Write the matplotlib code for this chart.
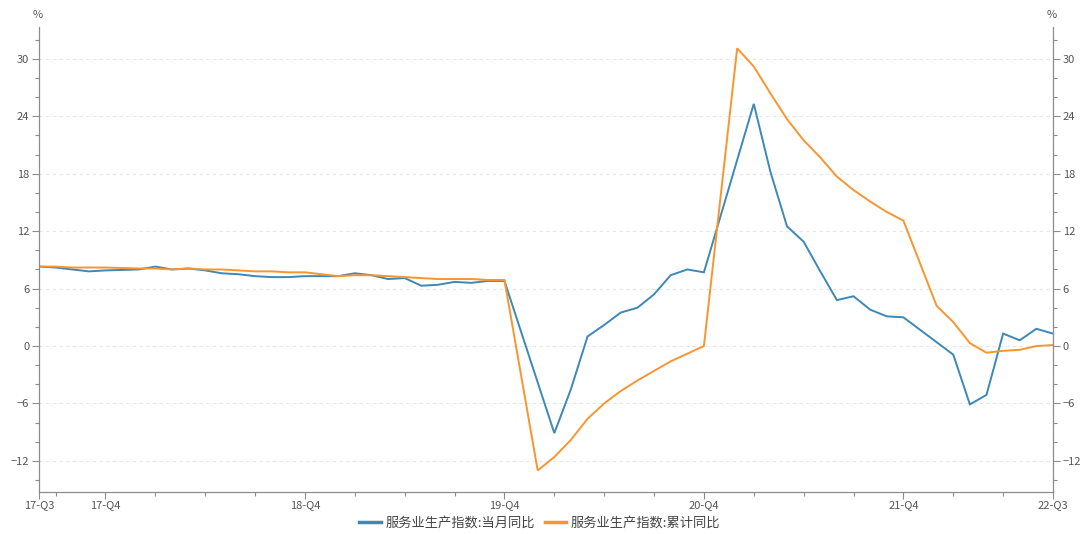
import numpy as np
import pandas as pd
import matplotlib.pyplot as plt
from matplotlib.ticker import MultipleLocator, FixedLocator

plt.rcParams['font.family'] = ['Noto Sans CJK SC', 'DejaVu Sans']

# monthly data, 2017-08 .. 2022-09 (Jan / Jan-Feb not published separately)
months = pd.period_range('2017-08', '2022-09', freq='M')
nan = np.nan

monthly_yoy = [
    8.3, 8.2, 8.0, 7.8, 7.9,
    nan, 8.0, 8.3, 8.0, 8.1, 7.9, 7.6, 7.5, 7.3, 7.2, 7.2, 7.3,
    nan, 7.3, 7.6, 7.4, 7.0, 7.1, 6.3, 6.4, 6.7, 6.6, 6.8, 6.8,
    nan, nan, -9.1, -4.5, 1.0, 2.2, 3.5, 4.0, 5.4, 7.4, 8.0, 7.7,
    nan, nan, 25.3, 18.2, 12.5, 10.9, 7.8, 4.8, 5.2, 3.8, 3.1, 3.0,
    nan, nan, -0.9, -6.1, -5.1, 1.3, 0.6, 1.8, 1.3,
]
cumulative_yoy = [
    8.3, 8.3, 8.2, 8.2, 8.2,
    nan, 8.1, 8.1, 8.0, 8.1, 8.0, 8.0, 7.9, 7.8, 7.8, 7.7, 7.7,
    nan, 7.3, 7.4, 7.4, 7.3, 7.2, 7.1, 7.0, 7.0, 7.0, 6.9, 6.9,
    nan, -13.0, -11.6, -9.8, -7.6, -6.0, -4.7, -3.6, -2.6, -1.6, -0.8, 0.0,
    nan, 31.1, 29.2, 26.4, 23.7, 21.5, 19.7, 17.7, 16.3, 15.1, 14.0, 13.1,
    nan, 4.2, 2.5, 0.3, -0.7, -0.5, -0.4, 0.0, 0.1,
]

series_names = ['服务业生产指数:当月同比', '服务业生产指数:累计同比']
series_colors = ['#3c88b6', '#f8952f']

x_labels = ['17-Q3', '17-Q4', '18-Q4', '19-Q4', '20-Q4', '21-Q4', '22-Q3']
x_label_months = ['2017-08', '2017-12', '2018-12', '2019-12', '2020-12', '2021-12', '2022-09']

x = np.arange(len(months))
month_pos = {str(m): i for i, m in enumerate(months)}

fig = plt.figure(figsize=(10.8, 5.34), dpi=100)
ax = fig.add_axes([39 / 1080, 1 - 492 / 534, 1014 / 1080, 465 / 534])

for vals, name, col in zip([monthly_yoy, cumulative_yoy], series_names, series_colors):
    v = np.array(vals, dtype=float)
    ok = ~np.isnan(v)
    ax.plot(x[ok], v[ok], color=col, lw=1.4, label=name, solid_joinstyle='miter')

ax.set_xlim(0, len(months) - 1)
ax.set_ylim(-15.25, 33.33)

# quarter-end minor ticks
quarter_ends = [i for i, m in enumerate(months) if m.month in (3, 6, 9, 12)]
major_x = [month_pos[m] for m in x_label_months]
ax.xaxis.set_major_locator(FixedLocator(major_x))
ax.xaxis.set_minor_locator(FixedLocator([q for q in quarter_ends if q not in major_x]))
ax.set_xticklabels(x_labels)

ax.yaxis.set_major_locator(MultipleLocator(6))
ax.yaxis.set_minor_locator(MultipleLocator(2))
ax.yaxis.set_ticks_position('both')
ax.tick_params(axis='y', which='both', labelright=True, direction='out')
ax.tick_params(which='major', length=5, width=0.8, color='#8c8c8c',
               labelsize=8, labelcolor='#555555', pad=2)
ax.tick_params(axis='x', which='major', pad=1)
ax.tick_params(which='minor', length=3, width=0.8, color='#8c8c8c')

ax.grid(axis='y', which='major', color='#e6e6e6', lw=0.8, ls=(0, (3, 3)))
ax.set_axisbelow(True)

for side in ['left', 'right', 'bottom']:
    ax.spines[side].set_color('#8c8c8c')
    ax.spines[side].set_linewidth(0.9)
ax.spines['top'].set_visible(False)

fig.text(38 / 1080, 1 - 15 / 534, '%', ha='center', va='center', fontsize=8, color='#555555')
fig.text(1052 / 1080, 1 - 15 / 534, '%', ha='center', va='center', fontsize=8, color='#555555')

leg = fig.legend(loc='center', bbox_to_anchor=(0.5, 1 - 523 / 534), ncol=2, frameon=False,
                 fontsize=9.5, handlelength=1.6, handletextpad=0.35, columnspacing=0.8)
for line in leg.get_lines():
    line.set_linewidth(2.5)
for t in leg.get_texts():
    t.set_color('#444444')

fig.savefig('out.png', dpi=100)
